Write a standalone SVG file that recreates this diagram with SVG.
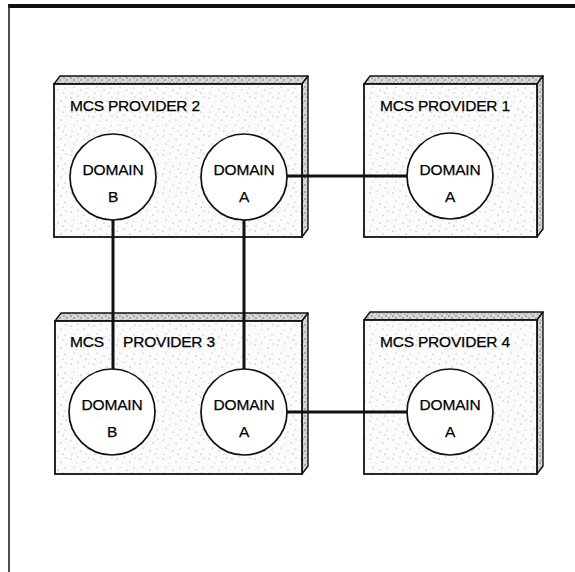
<svg xmlns="http://www.w3.org/2000/svg" width="575" height="572" viewBox="0 0 575 572">
<style>
.face{fill:url(#stip);stroke:#111;stroke-width:1.8}
.side{fill:url(#stipd);stroke:#111;stroke-width:1.4;stroke-linejoin:round}
.dom{fill:#fff;stroke:#111;stroke-width:1.7}
.t{font-family:"Liberation Sans",Arial,sans-serif;font-size:15.5px;letter-spacing:-0.2px;fill:#000;stroke:#000;stroke-width:0.25}
.tc{font-family:"Liberation Sans",Arial,sans-serif;font-size:15.5px;letter-spacing:-0.2px;fill:#000;stroke:#000;stroke-width:0.25;text-anchor:middle}
.conn{stroke:#111;stroke-width:3;fill:none}
</style>
<defs>
<pattern id="stip" width="23" height="19" patternUnits="userSpaceOnUse">
<rect width="23" height="19" fill="#fbfbfb"/>
<g fill="#8a8a8a">
<circle cx="2" cy="3" r="0.6"/><circle cx="9" cy="1" r="0.5"/><circle cx="15" cy="6" r="0.6"/>
<circle cx="20" cy="2" r="0.5"/><circle cx="5" cy="11" r="0.5"/><circle cx="12" cy="14" r="0.6"/>
<circle cx="19" cy="12" r="0.5"/><circle cx="3" cy="17" r="0.5"/><circle cx="17" cy="17" r="0.6"/>
<circle cx="8" cy="7" r="0.4"/>
</g>
</pattern>
<pattern id="stipd" width="7" height="7" patternUnits="userSpaceOnUse">
<rect width="7" height="7" fill="#d8d8d8"/>
<g fill="#555">
<circle cx="1" cy="1" r="0.7"/><circle cx="4" cy="3" r="0.7"/><circle cx="2" cy="5" r="0.6"/><circle cx="6" cy="6" r="0.6"/>
</g>
</pattern>
</defs>
<rect width="575" height="572" fill="#fff"/>
<line x1="8" y1="6" x2="575" y2="6" stroke="#111" stroke-width="4"/>
<line x1="9" y1="6" x2="9" y2="572" stroke="#222" stroke-width="1.6"/>

<g id="provider2">
<polygon class="side" points="54,84 60,76 308,76 302,84"/>
<polygon class="side" points="302,84 308,76 308,229 302,237"/>
<rect class="face" x="54" y="84" width="248" height="153"/>
<text class="t" x="70" y="111">MCS PROVIDER 2</text>
</g>
<g id="provider1">
<polygon class="side" points="364,84 370,76 543,76 537,84"/>
<polygon class="side" points="537,84 543,76 543,229 537,237"/>
<rect class="face" x="364" y="84" width="173" height="153"/>
<text class="t" x="380" y="111">MCS PROVIDER 1</text>
</g>
<g id="provider3">
<polygon class="side" points="55,321 61,313 308,313 302,321"/>
<polygon class="side" points="302,321 308,313 308,466 302,474"/>
<rect class="face" x="55" y="321" width="247" height="153"/>
<text class="t" x="70" y="347">MCS<tspan x="123">PROVIDER 3</tspan></text>
</g>
<g id="provider4">
<polygon class="side" points="364,320 370,312 543,312 537,320"/>
<polygon class="side" points="537,320 543,312 543,466 537,474"/>
<rect class="face" x="364" y="320" width="173" height="154"/>
<text class="t" x="380" y="347">MCS PROVIDER 4</text>
</g>

<g id="connectors">
<line class="conn" x1="113" y1="219" x2="113" y2="370"/>
<line class="conn" x1="244" y1="219" x2="244" y2="370"/>
<line class="conn" x1="286" y1="176" x2="408" y2="176"/>
<line class="conn" x1="286" y1="412" x2="408" y2="412"/>
</g>

<g id="p2-domainB">
<circle class="dom" cx="113" cy="177" r="43"/>
<text class="tc" x="113" y="175">DOMAIN</text>
<text class="tc" x="113" y="202">B</text>
</g>
<g id="p2-domainA">
<circle class="dom" cx="244" cy="177" r="43"/>
<text class="tc" x="244" y="175">DOMAIN</text>
<text class="tc" x="244" y="202">A</text>
</g>
<g id="p1-domainA">
<circle class="dom" cx="450" cy="176" r="43"/>
<text class="tc" x="450" y="175">DOMAIN</text>
<text class="tc" x="450" y="202">A</text>
</g>
<g id="p3-domainB">
<circle class="dom" cx="112" cy="412" r="43"/>
<text class="tc" x="112" y="410">DOMAIN</text>
<text class="tc" x="112" y="437">B</text>
</g>
<g id="p3-domainA">
<circle class="dom" cx="244" cy="412" r="43"/>
<text class="tc" x="244" y="410">DOMAIN</text>
<text class="tc" x="244" y="437">A</text>
</g>
<g id="p4-domainA">
<circle class="dom" cx="450" cy="412" r="43"/>
<text class="tc" x="450" y="410">DOMAIN</text>
<text class="tc" x="450" y="437">A</text>
</g>
</svg>
